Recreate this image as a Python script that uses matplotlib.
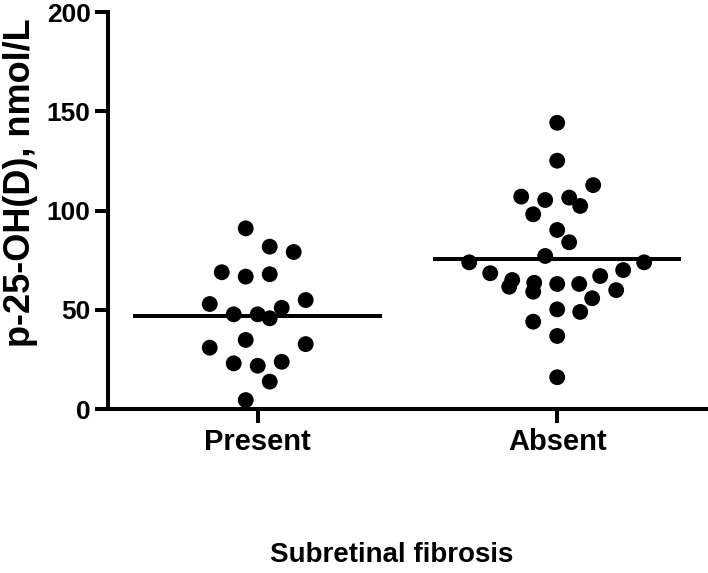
import numpy as np
import matplotlib
matplotlib.use('Agg')
import matplotlib.pyplot as plt

plt.rcParams['font.family'] = ['Liberation Sans', 'DejaVu Sans']
plt.rcParams['font.weight'] = 'bold'

# Datos
groups = ['Present', 'Absent']
present = [91.0, 81.8, 79.1, 68.9, 66.7, 67.9, 52.9, 54.9, 47.7, 47.7,
           45.7, 51.0, 34.8, 30.9, 32.7, 23.0, 21.8, 23.8, 13.8, 4.5]
absent = [144.2, 125.1, 112.8, 107.0, 105.3, 106.5, 102.3, 98.1, 90.2, 84.0,
          77.1, 73.9, 73.9, 68.4, 70.0, 65.0, 61.6, 63.6, 59.1, 63.0,
          63.0, 67.0, 59.9, 55.8, 50.2, 48.9, 44.0, 36.8, 16.0]
yticks = [0, 50, 100, 150, 200]

# desplazamiento horizontal del enjambre (en px de la figura original)
present_dx = [-12, 12, 36, -36, -12, 12, -48, 48, -24, 0,
              12, 24, -12, -48, 48, -24, 0, 24, 12, -12]
absent_dx = [0, 0, 36, -36, -12, 12, 23, -24, 0, 12,
             -12, -88, 87, -67, 66, -45, -48, -23, -24, 0,
             22, 43, 59, 35, 0, 23, -24, 0, 0]
px = 299.6  # px por unidad de categoría

fig = plt.figure(figsize=(7.08, 5.73), dpi=100)
ax = fig.add_axes([0.1525, 0.2862, 0.846, 0.6928])

for i, (vals, dx) in enumerate([(present, present_dx), (absent, absent_dx)]):
    x = i + np.array(dx) / px
    ax.scatter(x, vals, s=130, color='black', edgecolors='none',
               zorder=3, clip_on=False)
    m = np.mean(vals)
    ax.plot([i - 0.415, i + 0.415], [m, m], color='black', lw=2.9,
            solid_capstyle='butt', zorder=2)

ax.set_xlim(-0.5, 1.5)
ax.set_ylim(0, 200)
ax.set_xticks([0, 1])
ax.set_xticklabels(groups, fontsize=21, fontweight='bold')
ax.set_yticks(yticks)
ax.set_yticklabels([str(v) for v in yticks], fontsize=19, fontweight='bold')
ax.tick_params(axis='y', length=9.5, width=2.9, pad=3)
ax.tick_params(axis='x', length=10, width=2.9, pad=4)

for s in ['top', 'right']:
    ax.spines[s].set_visible(False)
for s in ['left', 'bottom']:
    ax.spines[s].set_linewidth(2.9)

fig.text(21 / 708, 1 - 183 / 573, 'p-25-OH(D), nmol/L', rotation=90,
         ha='center', va='center', fontsize=26, fontweight='bold')
fig.text(392 / 708, 1 - 555 / 573, 'Subretinal fibrosis',
         ha='center', va='center', fontsize=20, fontweight='bold')

fig.savefig('out.png', dpi=100)
